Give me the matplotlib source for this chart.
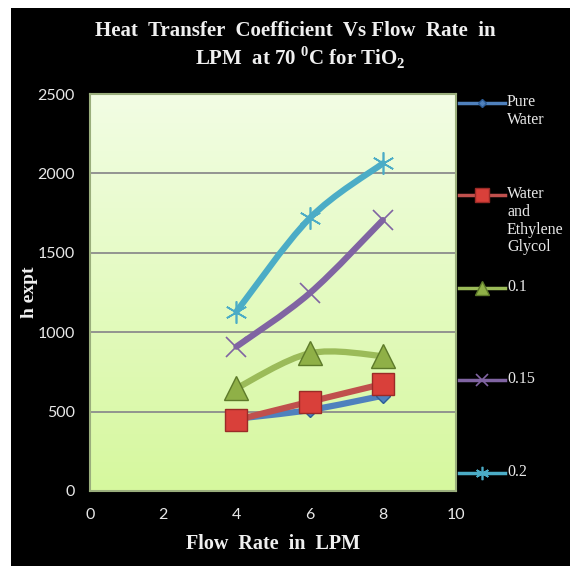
import numpy as np
import matplotlib
matplotlib.use("Agg")
import matplotlib.pyplot as plt
from matplotlib.path import Path
from matplotlib.patches import PathPatch, Rectangle
from matplotlib.lines import Line2D

# data
flow_lpm = [4, 6, 8]
pure_water = [455, 510, 600]
water_eg = [447, 562, 674]
conc_01 = [647, 867, 850]
conc_015 = [909, 1245, 1706]
conc_02 = [1129, 1717, 2063]

series_labels = ["Pure\nWater", "Water\nand\nEthylene\nGlycol", "0.1", "0.15", "0.2"]
series_values = [pure_water, water_eg, conc_01, conc_015, conc_02]
series_colors = ["#4f81bd", "#c0504d", "#9bbb59", "#8064a2", "#4bacc6"]

x_ticks = [0, 2, 4, 6, 8, 10]
y_ticks = [0, 500, 1000, 1500, 2000, 2500]

plt.rcParams["mathtext.fontset"] = "custom"
plt.rcParams["mathtext.rm"] = "Liberation Serif:bold"
plt.rcParams["mathtext.bf"] = "Liberation Serif:bold"

W, H = 570, 566


def fx(px):
    return px / W


def fy(py):
    return 1 - py / H


def smooth_path(xs, ys, tension=1 / 6):
    # Catmull-Rom style bezier through the points, like Excel smoothed lines
    pts = np.column_stack([xs, ys]).astype(float)
    verts = [pts[0]]
    codes = [Path.MOVETO]
    n = len(pts)
    for i in range(n - 1):
        p0 = pts[i - 1] if i > 0 else pts[i]
        p1 = pts[i]
        p2 = pts[i + 1]
        p3 = pts[i + 2] if i + 2 < n else pts[i + 1]
        c1 = p1 + (p2 - p0) * tension
        c2 = p2 - (p3 - p1) * tension
        verts += [c1, c2, p2]
        codes += [Path.CURVE4] * 3
    return Path(verts, codes)


fig = plt.figure(figsize=(W / 100, H / 100), dpi=100, facecolor="white")
fig.patches.append(Rectangle((fx(11), 0), 1 - fx(11), fy(8), transform=fig.transFigure,
                             facecolor="black", edgecolor="none", zorder=-10))

ax = fig.add_axes([fx(90), fy(491), fx(456) - fx(90), fy(94) - fy(491)])
ax.set_facecolor("none")

# gradient background of the plot area
grad = np.linspace(0, 1, 256)[:, None]
top = np.array([242, 253, 228]) / 255
bot = np.array([214, 248, 158]) / 255
img = top[None, None, :] * (1 - grad[:, :, None]) + bot[None, None, :] * grad[:, :, None]
ax.imshow(img, extent=[0, 1, 0, 1], transform=ax.transAxes, aspect="auto", zorder=0)

ax.set_xlim(0, 10)
ax.set_ylim(0, 2500)
for yv in y_ticks[1:-1]:
    ax.axhline(yv, color="#8c8c8c", lw=1.3, zorder=1)

markers = [
    dict(marker="D", ms=7, mfc="#4f81bd", mec="#2c5d98"),
    dict(marker="s", ms=16, mfc="#d9403a", mec="#9a2b27"),
    dict(marker="^", ms=17, mfc="#8fb047", mec="#5d7a2a"),
    dict(marker="x", ms=14, mec="#8064a2", mew=1.2),
    dict(marker=(6, 2, 0), ms=16, mec="#4bacc6", mew=1.2),
]

for vals, col, mk in zip(series_values, series_colors, markers):
    ax.add_patch(PathPatch(smooth_path(flow_lpm, vals), facecolor="none", edgecolor=col,
                           lw=4.5, capstyle="round", joinstyle="round", zorder=3))
for vals, mk in zip(series_values, markers):
    ax.plot(flow_lpm, vals, linestyle="none", zorder=4, **mk)

ax.set_xticks(x_ticks)
ax.set_yticks(y_ticks)
ax.tick_params(colors="white", length=0, labelsize=11.5)
ax.tick_params(axis="y", pad=11)
ax.tick_params(axis="x", pad=12)
for lab in ax.get_xticklabels() + ax.get_yticklabels():
    lab.set_fontfamily("Lato")
    lab.set_color("#e8e8e8")
for side, sp in ax.spines.items():
    sp.set_color("#9aae7c")
    sp.set_linewidth(1.5)

fig.text(fx(273), fy(549), "Flow  Rate  in  LPM", ha="center", va="baseline",
         family="Liberation Serif", weight="bold", fontsize=14.5, color="#f0f0f0")
fig.text(fx(29), fy(292), "h expt", ha="center", va="center", rotation=90,
         family="Liberation Serif", weight="bold", fontsize=14, color="#f0f0f0")

fig.text(fx(295), fy(36), "Heat  Transfer  Coefficient  Vs Flow  Rate  in", ha="center",
         va="baseline", family="Liberation Serif", weight="bold", fontsize=15, color="#f0f0f0")
fig.text(fx(300), fy(65), r"LPM  at 70 $^{0}$C for TiO$_{2}$", ha="center",
         va="baseline", family="Liberation Serif", weight="bold", fontsize=15, color="#f0f0f0")

# legend, spread down the right side
legend_y = [103, 195, 288, 380, 473]
for lab, col, mk, ly in zip(series_labels, series_colors, markers, legend_y):
    fig.add_artist(Line2D([fx(459), fx(505)], [fy(ly), fy(ly)], color=col, lw=2.5,
                          transform=fig.transFigure))
    m = dict(mk)
    m["ms"] = m["ms"] * 0.6
    fig.add_artist(Line2D([fx(482)], [fy(ly)], linestyle="none",
                          transform=fig.transFigure, **m))
    fig.text(fx(507), fy(ly - 9), lab, ha="left", va="top", family="Liberation Serif",
             fontsize=11.5, color="#e8e8e8", linespacing=1.15)

fig.savefig("out.png", dpi=100, facecolor=fig.get_facecolor())
